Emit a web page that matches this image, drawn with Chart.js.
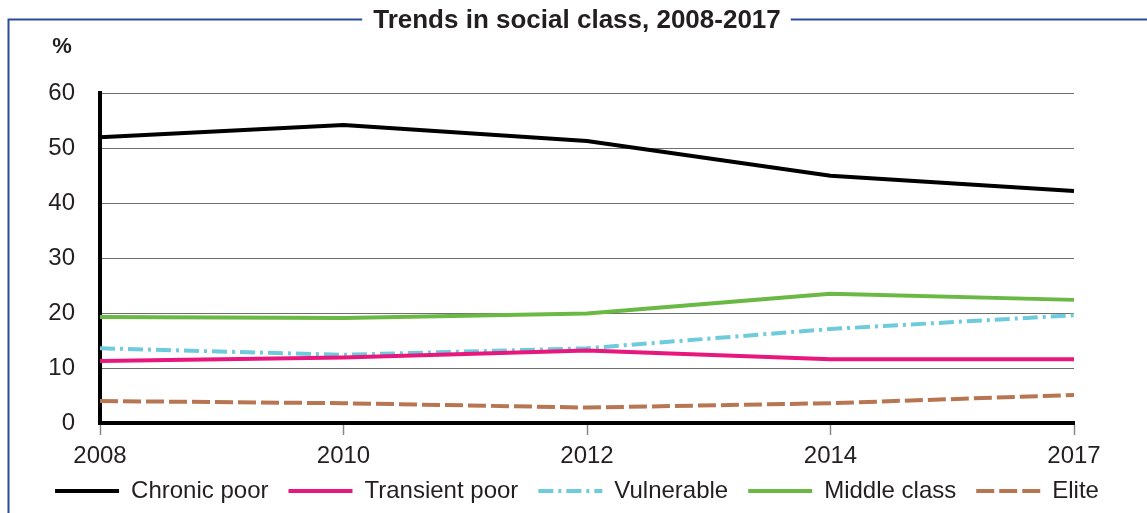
<!DOCTYPE html>
<html>
<head>
<meta charset="utf-8">
<script src="https://cdn.jsdelivr.net/npm/chart.js@4"></script>
<style>
  body { margin: 0; background: #fff; }
  #wrap { width: 1147px; height: 513px; }
</style>
</head>
<body>
<div id="wrap"><canvas id="classChart"></canvas></div>
<script>
var years = ["2008", "2010", "2012", "2014", "2017"];
var chronicPoor = [52, 54.2, 51.3, 45, 42.2];
var transientPoor = [11.3, 11.9, 13.2, 11.6, 11.6];
var vulnerable = [13.6, 12.4, 13.6, 17.1, 19.6];
var middleClass = [19.3, 19.1, 19.9, 23.5, 22.4];
var elite = [4.0, 3.6, 2.8, 3.6, 5.1];
var yTicks = [0, 10, 20, 30, 40, 50, 60];

var FONT = "'Liberation Sans', Arial, sans-serif";
var TEXT = "#231f20";
var titleText = "Trends in social class, 2008-2017";

// blue frame round the chart, with a gap for the title, plus the "%" label
var framePlugin = {
  id: "frame",
  afterLayout: function(chart) {
    // x labels hang below the (shortened) axis box, so widen its clip area
    chart.scales.x.bottom = chart.height;
  },
  beforeDraw: function(chart) {
    var ctx = chart.ctx;
    var tb = chart.titleBlock;
    ctx.save();
    ctx.font = "bold 26px " + FONT;
    var w = ctx.measureText(titleText).width;
    var cx = (tb.left + tb.right) / 2;
    ctx.strokeStyle = "#2c4b9b";
    ctx.lineWidth = 2;
    ctx.beginPath();
    ctx.moveTo(8.5, 600);
    ctx.lineTo(8.5, 19.5);
    ctx.lineTo(cx - w / 2 - 11, 19.5);
    ctx.moveTo(cx + w / 2 + 10, 19.5);
    ctx.lineTo(chart.width, 19.5);
    ctx.stroke();
    ctx.restore();
  },
  afterDraw: function(chart) {
    var ctx = chart.ctx;
    ctx.save();
    ctx.font = "bold 22px " + FONT;
    ctx.fillStyle = TEXT;
    ctx.textAlign = "center";
    ctx.textBaseline = "middle";
    ctx.fillText("%", 62, 47);
    ctx.restore();
  }
};

var ctx = document.getElementById("classChart").getContext("2d");

var classChart = new Chart(ctx, {
  type: "line",
  data: {
    labels: years,
    datasets: [
      { label: "Chronic poor", data: chronicPoor, borderColor: "#000000", borderWidth: 4 },
      { label: "Transient poor", data: transientPoor, borderColor: "#e8177e", borderWidth: 4 },
      { label: "Vulnerable", data: vulnerable, borderColor: "#6ecbdc", borderWidth: 4, borderDash: [15, 5, 3, 5] },
      { label: "Middle class", data: middleClass, borderColor: "#6ab945", borderWidth: 4 },
      { label: "Elite", data: elite, borderColor: "#b87552", borderWidth: 4, borderDash: [18, 5] }
    ]
  },
  options: {
    responsive: true,
    maintainAspectRatio: false,
    animation: false,
    layout: { padding: { left: 10, right: 3, top: 0, bottom: 0 } },
    elements: {
      point: { radius: 0 },
      line: { tension: 0, fill: false, borderJoinStyle: "round" }
    },
    plugins: {
      title: {
        display: true,
        text: titleText,
        color: TEXT,
        font: { family: FONT, size: 26, weight: "bold" },
        padding: { top: 5, bottom: 57 }
      },
      legend: {
        position: "bottom",
        labels: {
          usePointStyle: true,
          pointStyle: "line",
          pointStyleWidth: 64,
          padding: 20,
          color: TEXT,
          font: { family: FONT, size: 24 },
          generateLabels: function(chart) {
            var items = Chart.defaults.plugins.legend.labels.generateLabels(chart);
            return items.map(function(item) {
              var ds = chart.data.datasets[item.datasetIndex];
              item.strokeStyle = ds.borderColor;
              item.lineWidth = ds.borderWidth;
              item.lineDash = ds.borderDash || [];
              item.pointStyle = "line";
              return item;
            });
          }
        }
      },
      tooltip: { enabled: false }
    },
    scales: {
      x: {
        afterFit: function(scale) { scale.height = 36; },
        grid: { drawOnChartArea: false, drawTicks: true, tickLength: 12, tickColor: "#888", tickWidth: 1.5 },
        border: { color: "#000", width: 4 },
        ticks: { color: TEXT, padding: 7, font: { family: FONT, size: 24 }, maxRotation: 0 }
      },
      y: {
        min: 0,
        max: 60,
        afterBuildTicks: function(scale) {
          scale.ticks = yTicks.map(function(v) { return { value: v }; });
        },
        afterFit: function(scale) { scale.width = 90; },
        grid: { color: "#6e6e6e", lineWidth: 1, drawTicks: false },
        border: { color: "#000", width: 4 },
        ticks: { color: TEXT, padding: 25, font: { family: FONT, size: 24 } }
      },
      yRight: {
        position: "right",
        ticks: { display: false },
        grid: { display: false },
        border: { display: false },
        afterFit: function(scale) { scale.width = 70; }
      }
    }
  },
  plugins: [framePlugin]
});
</script>
</body>
</html>
